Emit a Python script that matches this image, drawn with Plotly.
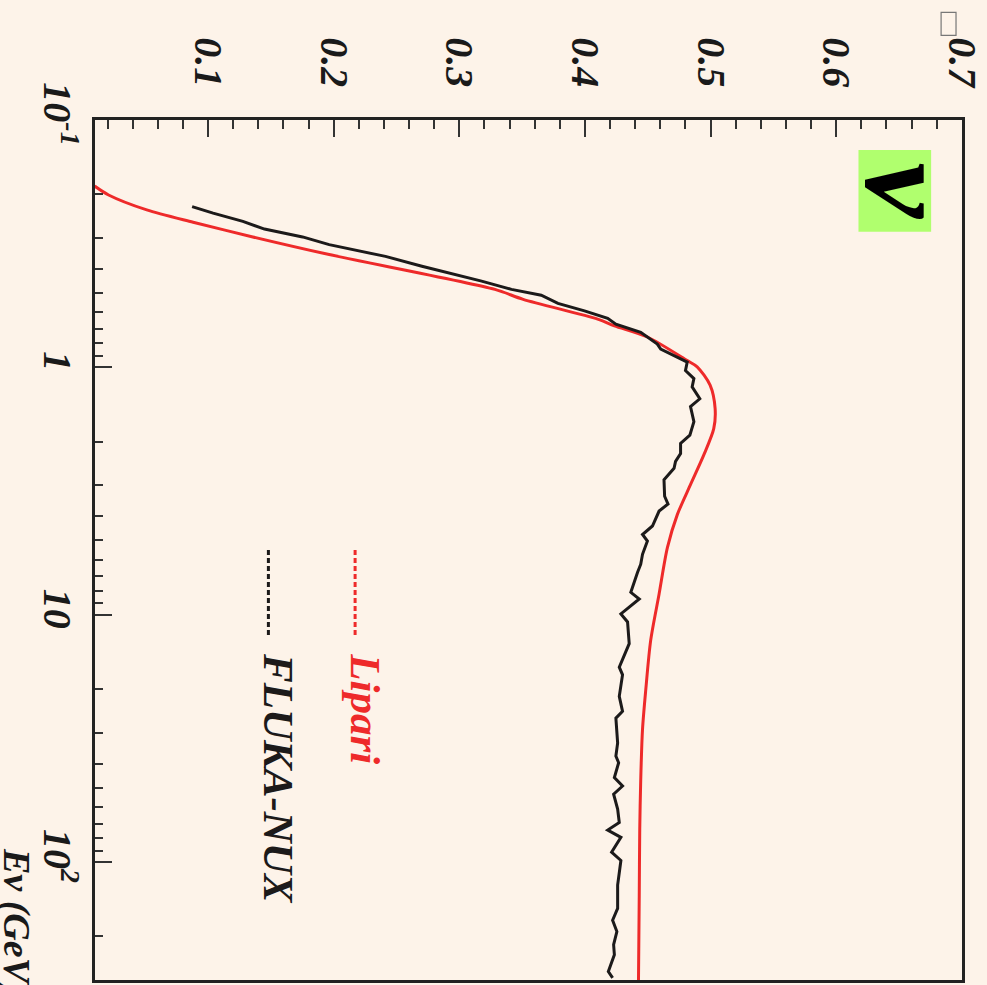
import plotly.graph_objects as go

# Neutrino energy (GeV) and curve values
lipari_energy = [0.185, 0.201, 0.231, 0.259, 0.297, 0.350, 0.484, 0.531, 0.638, 0.679,
                 0.754, 0.939, 0.995, 1.18, 1.47, 1.77, 2.26, 2.98, 3.94, 5.36,
                 8.25, 12.7, 20.1, 29.1, 46.2, 73.4, 136, 300]
lipari_value = [0.0097, 0.0208, 0.0512, 0.0881, 0.1356, 0.1964, 0.3283, 0.3508, 0.4101, 0.4234,
                0.4497, 0.4814, 0.4893, 0.4996, 0.5036, 0.5025, 0.4946, 0.4840, 0.4735, 0.4656,
                0.4590, 0.4523, 0.4484, 0.4458, 0.4444, 0.4436, 0.4432, 0.4426]

fluka_energy = [0.224, 0.238, 0.257, 0.276, 0.297, 0.319, 0.356, 0.390, 0.448, 0.484,
                0.511, 0.551, 0.591, 0.634, 0.669, 0.722, 0.805, 0.843, 0.953, 1.03,
                1.11, 1.20, 1.34, 1.44, 1.66, 1.88, 2.03, 2.23, 2.40, 2.56,
                2.85, 3.32, 3.57, 3.81, 4.38, 4.74, 5.04, 5.70, 6.25, 6.75,
                8.12, 8.64, 9.93, 10.7, 13.1, 16.3, 17.5, 21.4, 24.6, 26.2,
                33.0, 37.3, 39.7, 45.6, 49.3, 53.2, 61.1, 69.2, 74.3, 79.5,
                91.3, 98.6, 124, 154, 172, 191, 216, 237, 277, 294]
fluka_value = [0.0873, 0.1040, 0.1277, 0.1449, 0.1752, 0.1964, 0.2412, 0.2702, 0.3177, 0.3415,
               0.3652, 0.3785, 0.3996, 0.4181, 0.4246, 0.4444, 0.4576, 0.4603, 0.4814, 0.4800,
               0.4867, 0.4853, 0.4914, 0.4840, 0.4867, 0.4835, 0.4761, 0.4761, 0.4721, 0.4709,
               0.4629, 0.4634, 0.4661, 0.4590, 0.4537, 0.4458, 0.4497, 0.4458, 0.4444, 0.4418,
               0.4365, 0.4432, 0.4286, 0.4339, 0.4352, 0.4273, 0.4299, 0.4273, 0.4299, 0.4246,
               0.4260, 0.4246, 0.4268, 0.4234, 0.4299, 0.4228, 0.4260, 0.4273, 0.4181, 0.4286,
               0.4212, 0.4286, 0.4260, 0.4260, 0.4220, 0.4254, 0.4228, 0.4234, 0.4186, 0.4220]

energy_ticks = [0.1, 1, 10, 100]
energy_tick_text = ["10<sup>-1</sup>", "1", "10", "10<sup>2</sup>"]
energy_minor = [m * 10 ** d for d in (-1, 0, 1, 2) for m in range(2, 10) if m * 10 ** d <= 300]
value_ticks = [0.1, 0.2, 0.3, 0.4, 0.5, 0.6, 0.7]

BG = "#fdf3e9"
RED = "#ee2a2a"
BLACK = "#1c1a1a"
SERIF = "Liberation Serif"

fig = go.Figure()
fig.add_trace(go.Scatter(x=lipari_value, y=lipari_energy, mode="lines",
                         line=dict(color=RED, width=3, shape="spline", smoothing=0.8),
                         name="Lipari"))
fig.add_trace(go.Scatter(x=fluka_value, y=fluka_energy, mode="lines",
                         line=dict(color=BLACK, width=3), name="FLUKA-NUX"))

tick_font = dict(family=SERIF, size=40, color="#1a1a1a", weight="bold", style="italic")

fig.update_layout(
    width=987, height=985,
    margin=dict(l=95, r=21, t=120, b=2),
    paper_bgcolor=BG, plot_bgcolor=BG,
    showlegend=False,
    xaxis=dict(
        range=[0.01, 0.7001], side="top", showgrid=False, zeroline=False,
        tickvals=value_ticks, ticktext=[f"{v:.1f}" for v in value_ticks],
        ticks="inside", ticklen=17, tickwidth=1.5, tickcolor="#333",
        minor=dict(dtick=0.02, tick0=0, ticks="inside", ticklen=9, tickwidth=1.5, tickcolor="#333"),
        tickangle=90, tickfont=tick_font, ticklabelstandoff=16, ticklabeloverflow="allow",
        showline=True, linecolor="#222", linewidth=2.5, mirror=True,
    ),
    yaxis=dict(
        type="log", range=[2.477, -1], showgrid=False, zeroline=False,
        tickvals=energy_ticks, ticktext=energy_tick_text,
        ticks="inside", ticklen=17, tickwidth=1.5, tickcolor="#333",
        minor=dict(tickvals=energy_minor, ticks="inside", ticklen=8, tickwidth=1.5, tickcolor="#333"),
        tickangle=90, tickfont=tick_font, ticklabelstandoff=0, ticklabeloverflow="allow",
        showline=True, linecolor="#222", linewidth=2.5, mirror=True,
    ),
)

# Legend: dashed samples with rotated labels
for xp, color, label in [(0.3, RED, "Lipari"), (0.2, BLACK, "FLUKA-NUX")]:
    fig.add_shape(type="line", xref="paper", yref="paper", x0=xp, x1=xp, y0=0.5, y1=0.4,
                  line=dict(color=color, width=3, dash="5px,3px"))
    fig.add_annotation(xref="paper", yref="paper", x=xp + 0.011, y=0.382,
                       xanchor="center", yanchor="top", showarrow=False, textangle=90,
                       text=label, font=dict(family=SERIF, size=43, color=color,
                                              weight="bold", style="italic"))

# Neutrino badge
fig.add_shape(type="rect", xref="paper", yref="paper", x0=0.8806, x1=0.9644, y0=0.8702, y1=0.9652,
              fillcolor="#b0ff6e", line=dict(width=0), layer="above")
fig.add_annotation(xref="paper", yref="paper", x=0.938, y=0.9177, xanchor="center", yanchor="middle",
                   showarrow=False, textangle=90, text="ν",
                   font=dict(family=SERIF, size=125, color="black", weight="bold", style="italic"))

# Value axis title glyph box (top right)
fig.add_shape(type="rect", xref="paper", yref="paper", x0=0.9759, x1=0.9931, y0=1.0985, y1=1.1251,
              line=dict(color="#777", width=1.2), fillcolor="rgba(0,0,0,0)")

# Energy axis title
fig.add_annotation(xref="paper", yref="paper", x=-0.0913, y=0.156, xanchor="center", yanchor="top",
                   showarrow=False, textangle=90, text="Eν (GeV)",
                   font=dict(family=SERIF, size=38, color="#1a1a1a", weight="bold", style="italic"))

fig.write_html("out.html")
